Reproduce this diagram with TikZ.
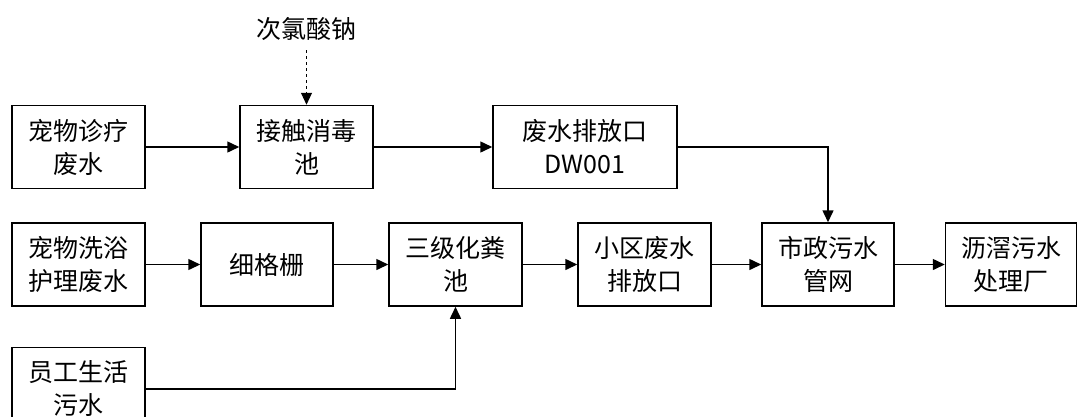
\documentclass[tikz,border=0pt]{standalone}
\usepackage{fontspec}
\setmainfont{Noto Sans CJK SC}
\usetikzlibrary{arrows.meta}
\tikzset{
  box/.style={draw, line width=1.5pt, rectangle, minimum height=83pt, align=center, inner sep=0pt, font=\fontsize{25}{33}\selectfont},
  flow/.style={line width=1.5pt, -{Triangle[length=12pt,width=11pt]}},
}
\begin{document}
\begin{tikzpicture}[x=1pt,y=-1pt]
\useasboundingbox (0,0) rectangle (1078,416);
\node[box, minimum width=133pt] (b1) at (78.5,147) {宠物诊疗\\废水};
\node[box, minimum width=133pt] (b2) at (306.5,147) {接触消毒\\池};
\node[box, minimum width=184pt] (b3) at (585,147) {废水排放口\\DW001};
\node[font=\fontsize{25}{33}\selectfont] (t) at (306.5,29) {次氯酸钠};
\node[box, minimum width=133pt] (c1) at (78.5,264.5) {宠物洗浴\\护理废水};
\node[box, minimum width=132pt] (c2) at (267,264.5) {细格栅};
\node[box, minimum width=133pt] (c3) at (455.5,264.5) {三级化粪\\池};
\node[box, minimum width=133pt] (c4) at (644.5,264.5) {小区废水\\排放口};
\node[box, minimum width=132pt] (c5) at (828,264.5) {市政污水\\管网};
\node[box, minimum width=131pt] (c6) at (1011,264.5) {沥滘污水\\处理厂};
\node[box, minimum width=133pt] (d1) at (78.5,389) {员工生活\\污水};
\draw[flow] (b1) -- (b2);
\draw[flow] (b2) -- (b3);
\draw[flow, dashed, line width=1pt, -{Triangle[length=12pt,width=11pt]}] (t.south |- 0,50) -- (b2.north);
\draw[flow] (b3.east) -| (c5.north);
\draw[flow] (c1) -- (c2);
\draw[flow] (c2) -- (c3);
\draw[flow] (c3) -- (c4);
\draw[flow] (c4) -- (c5);
\draw[flow] (c5) -- (c6);
\draw[flow] (d1.east) -| (c3.south);
\end{tikzpicture}
\end{document}
